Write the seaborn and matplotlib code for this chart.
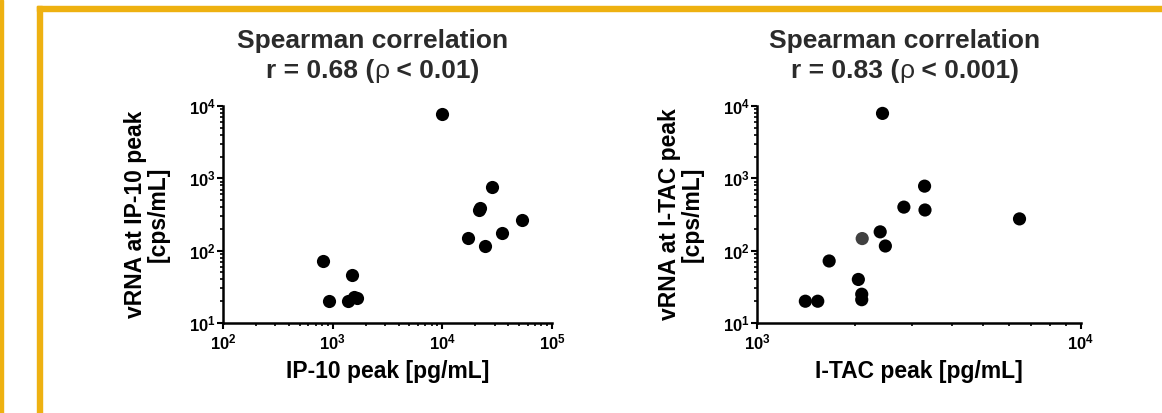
import math
import matplotlib.pyplot as plt
import matplotlib.ticker as mticker
from matplotlib.patches import Rectangle
import seaborn as sns
import pandas as pd

# ---------------------- 数据 ----------------------
ip10_peak = [810, 920, 1380, 1500, 1550, 1650, 10000, 17200, 22000, 21700, 24400, 28600, 34900, 53700]
vrna_ip10 = [73, 20, 20, 46, 23, 22, 7800, 150, 395, 362, 116, 760, 178, 269]

itac_peak = [1410, 1540, 1670, 2055, 2105, 2105, 2112, 2400, 2490, 2440, 2840, 3290, 3300, 6460]
vrna_itac = [20, 20, 72, 40, 25, 21, 147, 182, 116, 7900, 400, 780, 365, 275]
itac_group = ['a'] * 6 + ['b'] + ['a'] * 7

r_text = ['r = 0.68 (', 'r = 0.83 (']
p_text = [' < 0.01)', ' < 0.001)']

# ---------------------- 风格 ----------------------
sns.set_theme(style="ticks")
plt.rcParams['font.family'] = ['Liberation Sans', 'DejaVu Sans']
plt.rcParams['font.weight'] = 'bold'
plt.rcParams['mathtext.fontset'] = 'custom'
plt.rcParams['mathtext.rm'] = 'Liberation Sans'
plt.rcParams['mathtext.bf'] = 'Liberation Sans:bold'

W, H = 1162, 413
fig = plt.figure(figsize=(W / 100, H / 100), dpi=100)

# 金色边框
gold = '#EEB111'
fig.patches.append(Rectangle((0, 0), 3 / W, 1, transform=fig.transFigure, color=gold, zorder=0))
fig.patches.append(Rectangle((37 / W, 0), 5 / W, 1 - 6 / H, transform=fig.transFigure, color=gold, zorder=0))
fig.patches.append(Rectangle((37 / W, 1 - 11 / H), 1, 5 / H, transform=fig.transFigure, color=gold, zorder=0))


def pow10(v, pos):
    return r'$\mathbf{10^{%d}}$' % round(math.log10(v))


def style_axes(ax, xlim, ylim):
    ax.set_xscale('log')
    ax.set_yscale('log')
    ax.set_xlim(*xlim)
    ax.set_ylim(*ylim)
    sns.despine(ax=ax)
    for s in ['left', 'bottom']:
        ax.spines[s].set_linewidth(1.8)
        ax.spines[s].set_color('black')
    for axis in [ax.xaxis, ax.yaxis]:
        axis.set_major_locator(mticker.LogLocator(base=10))
        axis.set_minor_locator(mticker.LogLocator(base=10, subs=range(2, 10)))
        axis.set_major_formatter(mticker.FuncFormatter(pow10))
        axis.set_minor_formatter(mticker.NullFormatter())
    ax.tick_params(which='major', length=4, width=1.5, labelsize=12, pad=3, color='black', labelcolor='black')
    ax.tick_params(which='minor', length=2.5, width=1.2, color='black')
    ax.tick_params(axis='y', which='major', pad=1)


ax1 = fig.add_axes([223 / W, 1 - 323 / H, 329 / W, 217 / H])
ax2 = fig.add_axes([757 / W, 1 - 323 / H, 324 / W, 217 / H])

df1 = pd.DataFrame({'x': ip10_peak, 'y': vrna_ip10})
df2 = pd.DataFrame({'x': itac_peak, 'y': vrna_itac, 'g': itac_group})

sns.scatterplot(data=df1, x='x', y='y', ax=ax1, color='black', s=90, linewidth=0, zorder=3, clip_on=False)
sns.scatterplot(data=df2, x='x', y='y', hue='g', palette={'a': 'black', 'b': '#404040'},
                ax=ax2, s=90, linewidth=0, zorder=3, legend=False, clip_on=False)

style_axes(ax1, (1e2, 1e5), (1e1, 1e4))
style_axes(ax2, (1e3, 1e4), (1e1, 1e4))

ax1.set_xlabel('IP-10 peak [pg/mL]', fontsize=16.5, fontweight='bold', color='black', labelpad=5)
ax1.set_ylabel('vRNA at IP-10 peak\n[cps/mL]', fontsize=16.5, fontweight='bold', color='black',
               labelpad=14, linespacing=1.0)
ax2.set_xlabel('I-TAC peak [pg/mL]', fontsize=16.5, fontweight='bold', color='black', labelpad=5)
ax2.set_ylabel('vRNA at I-TAC peak\n[cps/mL]', fontsize=16.5, fontweight='bold', color='black',
               labelpad=14, linespacing=1.0)

# 标题
tcol = '#2b2b2b'
renderer = fig.canvas.get_renderer()
for cx, a, b in zip([373, 905], r_text, p_text):
    fig.text(cx / W, 1 - 48 / H, 'Spearman correlation', ha='center', va='baseline',
             fontsize=19, fontweight='bold', color=tcol)
    parts = [fig.text(0, 1 - 78 / H, a, fontsize=19, fontweight='bold', color=tcol, va='baseline'),
             fig.text(0, 1 - 78 / H, 'ρ', fontsize=19, fontweight='normal', color=tcol, va='baseline'),
             fig.text(0, 1 - 78 / H, b, fontsize=19, fontweight='bold', color=tcol, va='baseline')]
    widths = [p.get_window_extent(renderer).width for p in parts]
    x = cx - sum(widths) / 2
    for p, w in zip(parts, widths):
        p.set_x(x / W)
        x += w

fig.savefig('out.png', dpi=100)
